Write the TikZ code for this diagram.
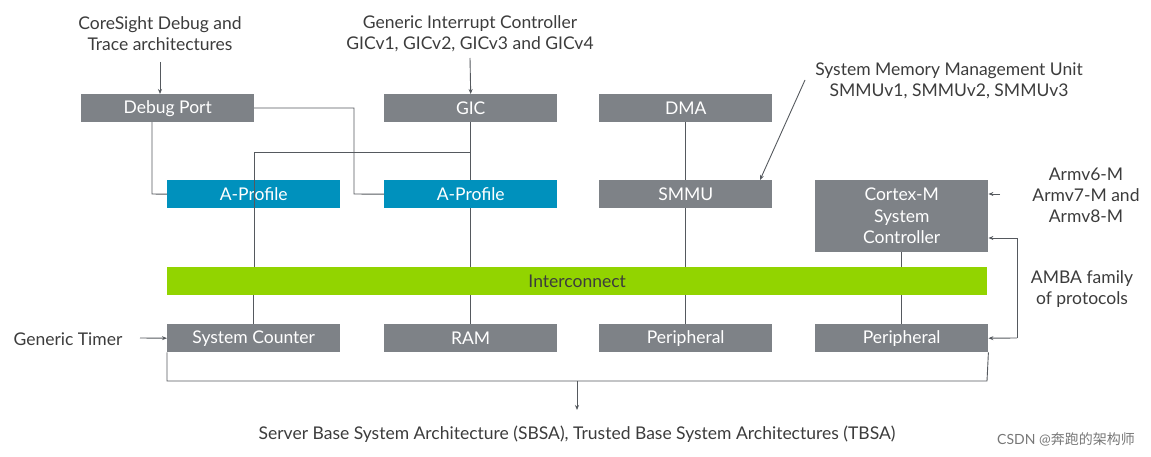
\documentclass[tikz,border=0pt]{standalone}
\usepackage{fontspec}
\setmainfont{Lato}
\newfontfamily\cjk{Noto Sans CJK SC}
\usetikzlibrary{arrows.meta}
\definecolor{boxgray}{HTML}{7E8287}
\definecolor{apblue}{HTML}{0091BD}
\definecolor{icgreen}{HTML}{92D400}
\definecolor{txt}{HTML}{3C3C3C}
\definecolor{ln}{HTML}{55595E}
\begin{document}
\begin{tikzpicture}[x=1pt,y=-1pt,
  box/.style={fill=boxgray,text=white,minimum width=173pt,minimum height=28pt,inner sep=0pt,font=\fontsize{17.5}{20}\selectfont,anchor=north west},
  lab/.style={text=txt,font=\fontsize{17.5}{21}\selectfont,align=center,inner sep=1pt},
  con/.style={draw=ln,line width=0.9pt},
  arr/.style={con,-{Stealth[length=5pt,width=4pt]}}]
\useasboundingbox (0,0) rectangle (1151,457);
% top row
\node[box] (dbg) at (81,94) {Debug Port};
\node[box] (gic) at (384,94) {GIC};
\node[box] (dma) at (599,94) {DMA};
% second row
\node[box,fill=apblue] (ap1) at (167,180) {A-Profile};
\node[box,fill=apblue] (ap2) at (384,180) {A-Profile};
\node[box] (smmu) at (599,180) {SMMU};
\node[box,minimum height=72pt,align=center,font=\fontsize{17.5}{21.5}\selectfont] (cm) at (815,180) {Cortex-M\\System\\Controller};
% interconnect
\node[box,fill=icgreen,text=txt,minimum width=820pt] (ic) at (167,267) {Interconnect};
% bottom row
\node[box] (sc) at (167,324) {System Counter};
\node[box] (ram) at (384,324) {RAM};
\node[box] (per1) at (599,324) {Peripheral};
\node[box] (per2) at (815,324) {Peripheral};
% labels
\node[lab] (tcs) at (160,34) {CoreSight Debug and\\Trace architectures};
\node[lab] (tgic) at (470,34) {Generic Interrupt Controller\\GICv1, GICv2, GICv3 and GICv4};
\node[lab] (tsmmu) at (949,81) {System Memory Management Unit\\SMMUv1, SMMUv2, SMMUv3};
\node[lab] (tarm) at (1086,195) {Armv6-M\\Armv7-M and\\Armv8-M};
\node[lab] (tamba) at (1082,289) {AMBA family\\of protocols};
\node[lab] (ttim) at (68,339) {Generic Timer};
\node[lab] (tsb) at (577,434) {Server Base System Architecture (SBSA), Trusted Base System Architectures (TBSA)};
\node[text=txt!70,font=\fontsize{14}{16}\selectfont] (wm) at (1066,439) {CSDN @{\cjk 奔跑的架构师}};
% connectors
\coordinate (ctop) at (160,62);
\draw[arr] (ctop) -- (160,94);
\draw[arr] (470,58) -- (gic.north);
\draw[arr] (805,80) -- (760,180);
\draw[arr] (1000,194) -- (cm.east |- 0,194);
\draw[arr] (140,338) -- (sc.west);
\draw[con] (152,122) -- (152,194) -- (ap1.west);
\draw[con] (254,108) -- (354,108) -- (354,194) -- (ap2.west);
\draw[con] (254,267) -- (254,152) -- (470,152);
\draw[con] (gic.south) -- (ap2.north) (ap2.south) -- (ic.north -| ap2.south);
\draw[con] (dma.south) -- (smmu.north) (smmu.south) -- (ic.north -| smmu.south);
\draw[con] (cm.south) -- (ic.north -| cm.south);
\draw[con] (ic.south -| sc.north) -- (sc.north);
\draw[con] (ic.south -| ram.north) -- (ram.north);
\draw[con] (ic.south -| per1.north) -- (per1.north);
\draw[con] (ic.south -| per2.north) -- (per2.north);
\draw[arr] (1017,238) -- (cm.east |- 0,238);
\draw[con] (1017,238) -- (1017,338);
\draw[arr] (1017,338) -- (per2.east);
\draw[con] (sc.south west) -- (167,381) -- (987,381) -- (per2.south east);
\draw[arr] (577,381) -- (577,410);
\end{tikzpicture}
\end{document}
